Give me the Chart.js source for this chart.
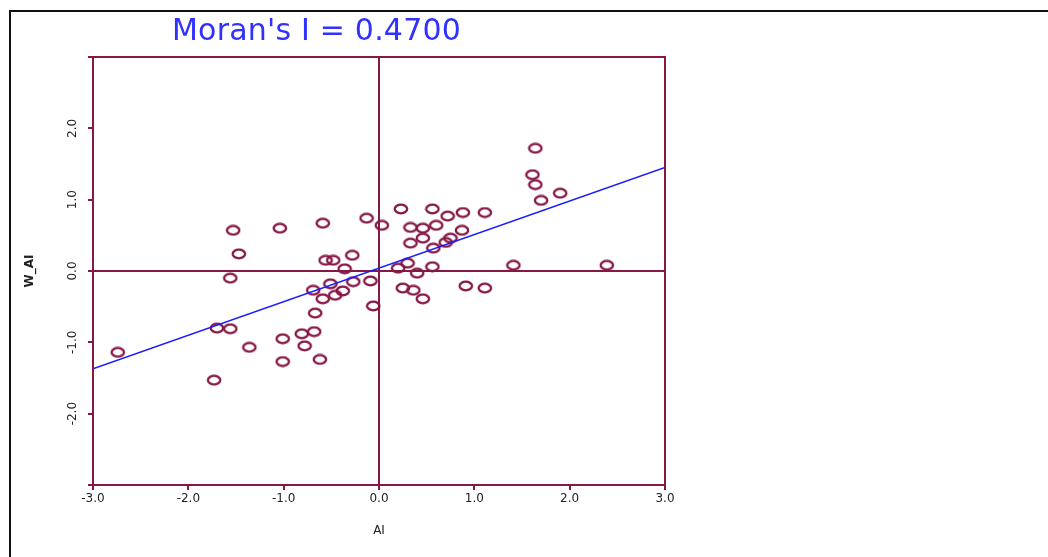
<!DOCTYPE html>
<html>
<head>
<meta charset="utf-8">
<script src="https://cdn.jsdelivr.net/npm/chart.js@4.4.1/dist/chart.umd.min.js"></script>
<style>
  html, body { margin: 0; padding: 0; background: #fff; }
  #wrap { position: relative; width: 1048px; height: 557px; overflow: hidden; }
  #frame { position: absolute; left: 9px; top: 10px; width: 1100px; height: 600px;
           border-left: 2px solid #111; border-top: 2px solid #111; }
  #title { position: absolute; left: 172px; top: 15px; font-family: "DejaVu Sans", sans-serif;
           font-size: 30px; line-height: 30px; letter-spacing: 0.2px;
           color: #3030ff; white-space: nowrap; }
  canvas { position: absolute; left: 0; top: 0; }
</style>
</head>
<body>
<div id="wrap">
  <div id="frame"></div>
  <canvas id="moranChart" width="1048" height="557"></canvas>
  <div id="title">Moran's I = 0.4700</div>
</div>
<script>
// standardised AI values and their spatial lag (W_AI)
const aiValues = [
  1.64, 1.61, 1.64, 1.90, 1.70, 0.23, 0.56, 0.88, 1.11, 0.72,
  -0.13, -0.59, -1.04, -1.53, 0.03, 0.33, 0.46, 0.60, 0.46, 0.33,
  0.87, 0.75, 0.70, 0.57, 0.30, 0.20, 0.56, 1.41, 2.39, 0.40,
  0.25, 0.36, 0.46, 0.91, 1.11, -1.47, -0.56, -0.48, -0.28, -0.36,
  -1.56, -0.09, -0.27, -0.51, -0.69, -0.38, -0.46, -0.59, -0.06, -0.67,
  -1.70, -1.56, -0.81, -0.68, -1.01, -0.78, -1.36, -2.74, -1.01, -0.62,
  -1.73
];
const wAiValues = [
  1.72, 1.35, 1.21, 1.09, 0.99, 0.87, 0.87, 0.82, 0.82, 0.77,
  0.74, 0.67, 0.60, 0.57, 0.64, 0.61, 0.60, 0.64, 0.46, 0.39,
  0.57, 0.46, 0.40, 0.32, 0.11, 0.04, 0.06, 0.08, 0.08, -0.03,
  -0.24, -0.27, -0.39, -0.21, -0.24, 0.24, 0.15, 0.15, 0.22, 0.03,
  -0.10, -0.14, -0.15, -0.18, -0.27, -0.28, -0.34, -0.39, -0.49, -0.59,
  -0.80, -0.81, -0.88, -0.85, -0.95, -1.05, -1.07, -1.14, -1.27, -1.24,
  -1.53
];
const xTickLabels = ['-3.0', '-2.0', '-1.0', '0.0', '1.0', '2.0', '3.0'];
const yTickLabels = ['', '-2.0', '-1.0', '0.0', '1.0', '2.0', ''];
const moranI = 0.47;
const lineIntercept = 0.04;

const maroon = '#861846';

// open elliptical ring used as marker
function ringMarker() {
  const c = document.createElement('canvas');
  c.width = 16;
  c.height = 12;
  const g = c.getContext('2d');
  g.strokeStyle = maroon;
  g.lineWidth = 2.3;
  g.beginPath();
  g.ellipse(8, 6, 6.2, 4.3, 0, 0, Math.PI * 2);
  g.stroke();
  return c;
}

// box around the plot area
const plotBox = {
  id: 'plotBox',
  afterDraw(chart) {
    const { ctx, chartArea: a } = chart;
    ctx.save();
    ctx.strokeStyle = maroon;
    ctx.lineWidth = 2;
    ctx.strokeRect(a.left, a.top, a.right - a.left, a.bottom - a.top);
    ctx.restore();
  }
};

const tickFont = { family: 'DejaVu Sans', size: 12 };
const zeroLine = {
  drawOnChartArea: true,
  color: (c) => (c.tick && c.tick.value === 0 ? maroon : 'rgba(0,0,0,0)'),
  lineWidth: (c) => (c.tick && c.tick.value === 0 ? 2 : 0),
  tickColor: maroon,
  tickWidth: 2,
  tickLength: 5
};

new Chart('moranChart', {
  data: {
    datasets: [
      {
        type: 'scatter',
        data: aiValues.map((x, i) => ({ x: x, y: wAiValues[i] })),
        pointStyle: ringMarker(),
        pointRadius: 6,
        order: 2
      },
      {
        type: 'line',
        data: [-3, 3].map((x) => ({ x: x, y: moranI * x + lineIntercept })),
        borderColor: '#1a1aff',
        borderWidth: 1.5,
        pointRadius: 0,
        order: 1
      }
    ]
  },
  options: {
    responsive: false,
    animation: false,
    layout: { padding: { left: 0, top: 57, right: 383, bottom: 0 } },
    plugins: { legend: { display: false }, tooltip: { enabled: false } },
    scales: {
      x: {
        type: 'linear',
        min: -3,
        max: 3,
        afterFit: (s) => { s.height = 72; },
        ticks: {
          stepSize: 1,
          padding: 2,
          color: '#222',
          font: tickFont,
          maxRotation: 0,
          callback: (v, i) => xTickLabels[i]
        },
        grid: zeroLine,
        border: { display: true, color: maroon, width: 2 },
        title: {
          display: true,
          text: 'AI',
          color: '#222',
          font: tickFont,
          padding: { top: 0, bottom: 19 }
        }
      },
      y: {
        type: 'linear',
        min: -3,
        max: 3,
        afterFit: (s) => { s.width = 93; },
        ticks: {
          stepSize: 1,
          padding: 3,
          color: '#222',
          font: tickFont,
          minRotation: 90,
          maxRotation: 90,
          crossAlign: 'center',
          callback: (v, i) => yTickLabels[i]
        },
        grid: zeroLine,
        border: { display: true, color: maroon, width: 2 },
        title: {
          display: true,
          text: 'W_AI',
          color: '#222',
          font: { family: 'DejaVu Sans', size: 12, weight: 'bold' },
          padding: { top: 23, bottom: 0 }
        }
      }
    }
  },
  plugins: [plotBox]
});
</script>
</body>
</html>
